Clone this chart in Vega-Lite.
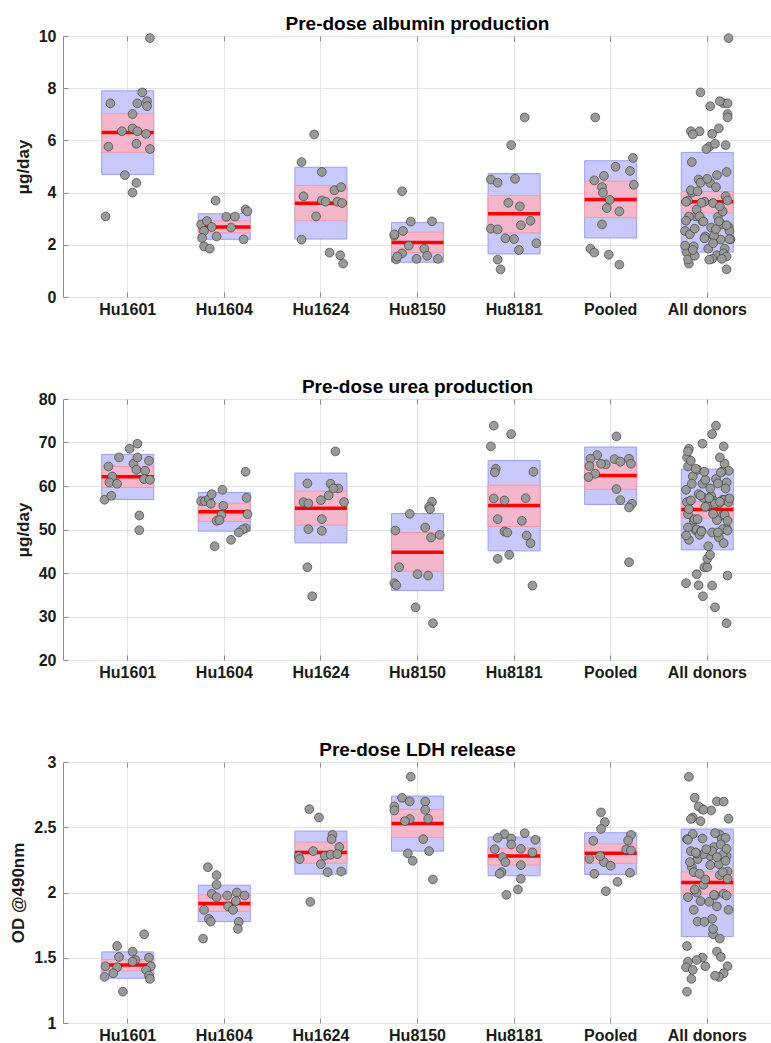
{
"$schema": "https://vega.github.io/schema/vega-lite/v6.json",
"background": "white",
"padding": {"left": 9, "top": 14, "right": 0, "bottom": 0},
"spacing": 59,
"config": {
  "font": "Liberation Sans",
  "view": {"stroke": "#8c8c8c", "strokeWidth": 1},
  "axis": {"labelFont": "Liberation Sans", "labelFontWeight": "bold", "labelFontSize": 16, "labelColor": "#1a1a1a", "titleFont": "Liberation Sans", "titleFontWeight": "bold", "titleFontSize": 17, "titleColor": "#1a1a1a", "domain": false, "grid": true, "gridColor": "#e4e4e4", "gridWidth": 1, "tickColor": "#8c8c8c", "tickSize": -5},
  "axisX": {"labelAngle": 0, "labelPadding": 9},
  "axisY": {"titlePadding": 6, "labelPadding": 12, "format": "~r"},
  "title": {"font": "Liberation Sans", "fontSize": 19, "fontWeight": "bold", "color": "#000000", "offset": -5.5, "frame": "group", "anchor": "middle"}
},
"datasets": {
"alb": [
{"g":"Hu1601","v":3.09,"j":-0.23,"a":-0.12},{"g":"Hu1601","v":7.42,"j":-0.18,"a":0.17},{"g":"Hu1601","v":5.76,"j":-0.2,"a":0.02},{"g":"Hu1601","v":6.35,"j":-0.06,"a":-0.17},{"g":"Hu1601","v":7.01,"j":0.05,"a":0.21},{"g":"Hu1601","v":6.46,"j":0.05,"a":0.12},{"g":"Hu1601","v":4.67,"j":-0.03,"a":0.1},{"g":"Hu1601","v":4.37,"j":0.09,"a":0.03},{"g":"Hu1601","v":4.0,"j":0.05,"a":-0.16},{"g":"Hu1601","v":7.42,"j":0.1,"a":0.21},{"g":"Hu1601","v":7.84,"j":0.15,"a":-0.07},{"g":"Hu1601","v":7.5,"j":0.2,"a":0.13},{"g":"Hu1601","v":7.31,"j":0.2,"a":0.03},{"g":"Hu1601","v":6.35,"j":0.1,"a":-0.08},{"g":"Hu1601","v":5.87,"j":0.09,"a":0.08},{"g":"Hu1601","v":6.25,"j":0.19,"a":0.05},{"g":"Hu1601","v":5.67,"j":0.23,"a":-0.01},{"g":"Hu1601","v":9.92,"j":0.23,"a":0.22},
{"g":"Hu1604","v":3.69,"j":-0.09,"a":-0.2},{"g":"Hu1604","v":2.78,"j":-0.24,"a":0.15},{"g":"Hu1604","v":2.91,"j":-0.18,"a":-0.05},{"g":"Hu1604","v":2.68,"j":-0.13,"a":0.22},{"g":"Hu1604","v":2.53,"j":-0.21,"a":-0.23},{"g":"Hu1604","v":2.26,"j":-0.23,"a":0.08},{"g":"Hu1604","v":1.94,"j":-0.21,"a":-0.14},{"g":"Hu1604","v":1.85,"j":-0.15,"a":0.18},{"g":"Hu1604","v":2.32,"j":-0.08,"a":-0.02},{"g":"Hu1604","v":3.07,"j":0.02,"a":0.11},{"g":"Hu1604","v":3.08,"j":0.11,"a":-0.19},{"g":"Hu1604","v":2.66,"j":0.07,"a":0.04},{"g":"Hu1604","v":2.21,"j":0.2,"a":0.24},{"g":"Hu1604","v":3.35,"j":0.22,"a":-0.11},{"g":"Hu1604","v":3.28,"j":0.24,"a":0.16},
{"g":"Hu1624","v":6.23,"j":-0.07,"a":-0.15},{"g":"Hu1624","v":5.17,"j":-0.2,"a":-0.16},{"g":"Hu1624","v":4.79,"j":0.01,"a":0.2},{"g":"Hu1624","v":3.86,"j":-0.18,"a":0.19},{"g":"Hu1624","v":3.7,"j":0.01,"a":0.21},{"g":"Hu1624","v":3.65,"j":0.05,"a":-0.22},{"g":"Hu1624","v":4.09,"j":0.14,"a":-0.17},{"g":"Hu1624","v":4.21,"j":0.21,"a":0.09},{"g":"Hu1624","v":3.65,"j":0.17,"a":-0.03},{"g":"Hu1624","v":3.6,"j":0.22,"a":0.06},{"g":"Hu1624","v":3.09,"j":-0.05,"a":-0.08},{"g":"Hu1624","v":2.2,"j":-0.2,"a":0.14},{"g":"Hu1624","v":1.7,"j":0.09,"a":-0.21},{"g":"Hu1624","v":1.6,"j":0.2,"a":0.1},{"g":"Hu1624","v":1.28,"j":0.23,"a":-0.19},
{"g":"Hu8150","v":4.05,"j":-0.16,"a":-0.1},{"g":"Hu8150","v":2.35,"j":-0.24,"a":0.07},{"g":"Hu8150","v":2.4,"j":-0.24,"a":-0.18},{"g":"Hu8150","v":2.53,"j":-0.15,"a":0.23},{"g":"Hu8150","v":2.89,"j":-0.07,"a":-0.04},{"g":"Hu8150","v":2.9,"j":0.15,"a":0.12},{"g":"Hu8150","v":1.97,"j":-0.09,"a":-0.23},{"g":"Hu8150","v":1.85,"j":0.07,"a":0.01},{"g":"Hu8150","v":1.67,"j":-0.16,"a":0.17},{"g":"Hu8150","v":1.44,"j":-0.22,"a":-0.2},{"g":"Hu8150","v":1.55,"j":-0.21,"a":0.2},{"g":"Hu8150","v":1.46,"j":-0.01,"a":0.05},{"g":"Hu8150","v":1.58,"j":0.1,"a":-0.13},{"g":"Hu8150","v":1.46,"j":0.21,"a":0.15},
{"g":"Hu8181","v":6.88,"j":0.11,"a":0.21},{"g":"Hu8181","v":5.82,"j":-0.03,"a":0.19},{"g":"Hu8181","v":4.5,"j":-0.24,"a":-0.09},{"g":"Hu8181","v":4.38,"j":-0.17,"a":-0.07},{"g":"Hu8181","v":4.53,"j":0.01,"a":0.0},{"g":"Hu8181","v":3.61,"j":-0.06,"a":-0.06},{"g":"Hu8181","v":3.47,"j":0.06,"a":0.13},{"g":"Hu8181","v":2.92,"j":0.17,"a":-0.22},{"g":"Hu8181","v":2.75,"j":0.07,"a":0.2},{"g":"Hu8181","v":2.62,"j":-0.24,"a":-0.13},{"g":"Hu8181","v":2.59,"j":-0.17,"a":0.09},{"g":"Hu8181","v":2.25,"j":-0.09,"a":-0.03},{"g":"Hu8181","v":2.22,"j":0.0,"a":0.23},{"g":"Hu8181","v":1.8,"j":0.05,"a":-0.15},{"g":"Hu8181","v":2.06,"j":0.23,"a":0.06},{"g":"Hu8181","v":1.43,"j":-0.17,"a":0.02},{"g":"Hu8181","v":1.06,"j":-0.14,"a":0.2},
{"g":"Pooled","v":6.88,"j":-0.16},{"g":"Pooled","v":5.33,"j":0.23},{"g":"Pooled","v":4.99,"j":0.05},{"g":"Pooled","v":4.83,"j":0.2},{"g":"Pooled","v":4.64,"j":-0.07},{"g":"Pooled","v":4.47,"j":-0.17},{"g":"Pooled","v":4.3,"j":0.24},{"g":"Pooled","v":4.21,"j":-0.09},{"g":"Pooled","v":4.0,"j":-0.08},{"g":"Pooled","v":3.72,"j":-0.01},{"g":"Pooled","v":3.41,"j":-0.04},{"g":"Pooled","v":3.28,"j":0.09},{"g":"Pooled","v":2.78,"j":-0.09},{"g":"Pooled","v":1.85,"j":-0.21},{"g":"Pooled","v":1.7,"j":-0.17},{"g":"Pooled","v":1.62,"j":-0.02},{"g":"Pooled","v":1.24,"j":0.09}
],
"albB": [
{"g":"Hu1601","m":6.3,"s0":4.69,"s1":7.9,"c0":5.54,"c1":7.02},
{"g":"Hu1604","m":2.68,"s0":2.21,"s1":3.19,"c0":2.46,"c1":2.92},
{"g":"Hu1624","m":3.59,"s0":2.22,"s1":4.97,"c0":2.92,"c1":4.27},
{"g":"Hu8150","m":2.09,"s0":1.33,"s1":2.85,"c0":1.7,"c1":2.48},
{"g":"Hu8181","m":3.19,"s0":1.65,"s1":4.73,"c0":2.46,"c1":3.88},
{"g":"Pooled","m":3.74,"s0":2.26,"s1":5.22,"c0":3.04,"c1":4.44},
{"g":"All donors","m":3.65,"s0":1.72,"s1":5.54,"c0":3.22,"c1":4.04}
],
"urea": [
{"g":"Hu1601","v":56.83,"j":-0.24,"a":0.16},{"g":"Hu1601","v":64.5,"j":-0.2,"a":-0.2},{"g":"Hu1601","v":57.75,"j":-0.17,"a":0.04},{"g":"Hu1601","v":62.2,"j":-0.16,"a":-0.15},{"g":"Hu1601","v":60.82,"j":-0.19,"a":0.2},{"g":"Hu1601","v":60.51,"j":-0.11,"a":-0.05},{"g":"Hu1601","v":66.57,"j":-0.09,"a":-0.21},{"g":"Hu1601","v":68.57,"j":0.02,"a":-0.19},{"g":"Hu1601","v":69.72,"j":0.1,"a":-0.05},{"g":"Hu1601","v":65.12,"j":0.06,"a":0.18},{"g":"Hu1601","v":66.57,"j":0.1,"a":0.13},{"g":"Hu1601","v":63.73,"j":0.09,"a":-0.1},{"g":"Hu1601","v":63.5,"j":0.18,"a":0.22},{"g":"Hu1601","v":65.81,"j":0.22,"a":-0.17},{"g":"Hu1601","v":61.59,"j":0.17,"a":0.09},{"g":"Hu1601","v":61.43,"j":0.23,"a":-0.02},{"g":"Hu1601","v":53.22,"j":0.12,"a":0.16},{"g":"Hu1601","v":49.85,"j":0.12,"a":-0.12},
{"g":"Hu1604","v":56.52,"j":-0.24,"a":0.07},{"g":"Hu1604","v":56.52,"j":-0.2,"a":-0.18},{"g":"Hu1604","v":56.98,"j":-0.16,"a":0.21},{"g":"Hu1604","v":58.13,"j":-0.13,"a":-0.09},{"g":"Hu1604","v":55.91,"j":-0.14,"a":0.12},{"g":"Hu1604","v":59.13,"j":-0.02,"a":-0.22},{"g":"Hu1604","v":55.45,"j":-0.01,"a":0.0},{"g":"Hu1604","v":53.38,"j":-0.03,"a":0.18},{"g":"Hu1604","v":52.0,"j":-0.08,"a":-0.14},{"g":"Hu1604","v":52.15,"j":-0.05,"a":0.1},{"g":"Hu1604","v":63.27,"j":0.22,"a":0.15},{"g":"Hu1604","v":57.29,"j":0.23,"a":-0.04},{"g":"Hu1604","v":53.53,"j":0.24,"a":-0.2},{"g":"Hu1604","v":50.31,"j":0.22,"a":0.2},{"g":"Hu1604","v":50.0,"j":0.19,"a":-0.11},{"g":"Hu1604","v":49.31,"j":0.15,"a":0.05},{"g":"Hu1604","v":47.62,"j":0.07,"a":-0.19},{"g":"Hu1604","v":46.16,"j":-0.1,"a":0.01},
{"g":"Hu1624","v":67.96,"j":0.15,"a":-0.2},{"g":"Hu1624","v":60.59,"j":-0.14,"a":0.11},{"g":"Hu1624","v":60.51,"j":0.1,"a":-0.16},{"g":"Hu1624","v":59.44,"j":0.18,"a":0.19},{"g":"Hu1624","v":59.44,"j":0.13,"a":0.03},{"g":"Hu1624","v":57.83,"j":0.08,"a":-0.07},{"g":"Hu1624","v":56.75,"j":0.0,"a":0.17},{"g":"Hu1624","v":56.29,"j":-0.18,"a":-0.21},{"g":"Hu1624","v":55.99,"j":-0.13,"a":0.08},{"g":"Hu1624","v":56.29,"j":0.24,"a":0.22},{"g":"Hu1624","v":52.38,"j":0.01,"a":-0.13},{"g":"Hu1624","v":50.08,"j":-0.13,"a":0.16},{"g":"Hu1624","v":49.69,"j":0.01,"a":-0.06},{"g":"Hu1624","v":41.33,"j":-0.14,"a":-0.03},{"g":"Hu1624","v":34.65,"j":-0.09,"a":-0.045},
{"g":"Hu8150","v":56.37,"j":0.15,"a":0.13},{"g":"Hu8150","v":55.2,"j":0.12,"a":-0.02},{"g":"Hu8150","v":54.68,"j":0.13,"a":-0.19},{"g":"Hu8150","v":53.6,"j":-0.08,"a":0.06},{"g":"Hu8150","v":50.46,"j":0.08,"a":-0.2},{"g":"Hu8150","v":49.77,"j":-0.23,"a":0.21},{"g":"Hu8150","v":48.77,"j":0.23,"a":-0.08},{"g":"Hu8150","v":48.16,"j":0.14,"a":0.12},{"g":"Hu8150","v":41.33,"j":-0.19,"a":0.0},{"g":"Hu8150","v":39.72,"j":0.0,"a":-0.11},{"g":"Hu8150","v":39.41,"j":0.11,"a":0.21},{"g":"Hu8150","v":37.65,"j":-0.24,"a":-0.22},{"g":"Hu8150","v":37.19,"j":-0.22,"a":-0.09},{"g":"Hu8150","v":32.12,"j":-0.02,"a":0.08},{"g":"Hu8150","v":28.44,"j":0.16,"a":0.2},
{"g":"Hu8181","v":73.86,"j":-0.21,"a":0.09},{"g":"Hu8181","v":71.94,"j":-0.03,"a":0.05},{"g":"Hu8181","v":69.1,"j":-0.24,"a":0.17},{"g":"Hu8181","v":63.96,"j":-0.19,"a":-0.12},{"g":"Hu8181","v":63.12,"j":-0.2,"a":0.14},{"g":"Hu8181","v":63.27,"j":0.2,"a":-0.03},{"g":"Hu8181","v":57.14,"j":-0.21,"a":0.23},{"g":"Hu8181","v":56.68,"j":-0.1,"a":-0.17},{"g":"Hu8181","v":57.21,"j":0.12,"a":0.02},{"g":"Hu8181","v":52.38,"j":-0.17,"a":-0.1},{"g":"Hu8181","v":52.0,"j":0.08,"a":0.21},{"g":"Hu8181","v":49.54,"j":-0.1,"a":-0.06},{"g":"Hu8181","v":49.31,"j":-0.07,"a":0.11},{"g":"Hu8181","v":48.62,"j":0.13,"a":-0.22},{"g":"Hu8181","v":46.86,"j":0.17,"a":0.17},{"g":"Hu8181","v":43.25,"j":-0.17,"a":0.0},{"g":"Hu8181","v":44.17,"j":-0.05,"a":0.03},{"g":"Hu8181","v":37.11,"j":0.19,"a":0.05},
{"g":"Pooled","v":71.41,"j":0.06},{"g":"Pooled","v":67.11,"j":-0.14},{"g":"Pooled","v":66.27,"j":-0.21},{"g":"Pooled","v":64.96,"j":-0.05},{"g":"Pooled","v":64.58,"j":-0.22},{"g":"Pooled","v":66.19,"j":0.04},{"g":"Pooled","v":65.58,"j":0.1},{"g":"Pooled","v":66.27,"j":0.19},{"g":"Pooled","v":65.12,"j":0.21},{"g":"Pooled","v":65.12,"j":-0.1},{"g":"Pooled","v":62.81,"j":-0.16},{"g":"Pooled","v":62.05,"j":-0.23},{"g":"Pooled","v":59.29,"j":0.06},{"g":"Pooled","v":56.75,"j":0.1},{"g":"Pooled","v":55.91,"j":0.22},{"g":"Pooled","v":55.06,"j":0.19},{"g":"Pooled","v":42.48,"j":0.19}
],
"ureaB": [
{"g":"Hu1601","m":62.12,"s0":56.9,"s1":67.26,"c0":59.67,"c1":64.5},
{"g":"Hu1604","m":54.07,"s0":49.62,"s1":58.52,"c0":51.84,"c1":56.06},
{"g":"Hu1624","m":54.91,"s0":46.93,"s1":62.97,"c0":51.0,"c1":58.82},
{"g":"Hu8150","m":44.78,"s0":35.96,"s1":53.68,"c0":40.41,"c1":49.31},
{"g":"Hu8181","m":55.53,"s0":45.09,"s1":65.88,"c0":50.69,"c1":60.21},
{"g":"Pooled","m":62.43,"s0":55.76,"s1":68.95,"c0":59.21,"c1":65.42},
{"g":"All donors","m":54.6,"s0":45.32,"s1":63.89,"c0":52.61,"c1":56.37}
],
"ldh": [
{"g":"Hu1601","v":1.68,"j":0.17,"a":0.06},{"g":"Hu1601","v":1.59,"j":-0.11,"a":-0.21},{"g":"Hu1601","v":1.547,"j":0.05,"a":0.1},{"g":"Hu1601","v":1.506,"j":-0.09,"a":0.14},{"g":"Hu1601","v":1.501,"j":0.22,"a":-0.05},{"g":"Hu1601","v":1.483,"j":0.08,"a":-0.11},{"g":"Hu1601","v":1.47,"j":0.05,"a":-0.2},{"g":"Hu1601","v":1.435,"j":-0.23,"a":0.21},{"g":"Hu1601","v":1.427,"j":-0.11,"a":-0.22},{"g":"Hu1601","v":1.435,"j":0.24,"a":-0.02},{"g":"Hu1601","v":1.381,"j":-0.15,"a":0.17},{"g":"Hu1601","v":1.407,"j":0.19,"a":-0.15},{"g":"Hu1601","v":1.353,"j":-0.24,"a":0.12},{"g":"Hu1601","v":1.363,"j":0.22,"a":0.08},{"g":"Hu1601","v":1.338,"j":0.23,"a":-0.165},{"g":"Hu1601","v":1.24,"j":-0.05,"a":-0.21},
{"g":"Hu1604","v":2.194,"j":-0.17,"a":-0.16},{"g":"Hu1604","v":2.133,"j":-0.08,"a":0.13},{"g":"Hu1604","v":2.059,"j":-0.08,"a":-0.04},{"g":"Hu1604","v":1.99,"j":-0.13,"a":0.17},{"g":"Hu1604","v":1.964,"j":-0.08,"a":-0.2},{"g":"Hu1604","v":1.977,"j":0.03,"a":0.08},{"g":"Hu1604","v":2.0,"j":0.13,"a":-0.11},{"g":"Hu1604","v":1.977,"j":0.21,"a":0.2},{"g":"Hu1604","v":1.934,"j":0.12,"a":-0.07},{"g":"Hu1604","v":1.893,"j":0.04,"a":0.1},{"g":"Hu1604","v":1.867,"j":0.09,"a":0.22},{"g":"Hu1604","v":1.867,"j":-0.21,"a":-0.14},{"g":"Hu1604","v":1.798,"j":-0.16,"a":0.05},{"g":"Hu1604","v":1.777,"j":-0.14,"a":-0.1},{"g":"Hu1604","v":1.775,"j":0.15,"a":-0.03},{"g":"Hu1604","v":1.721,"j":0.14,"a":0.06},{"g":"Hu1604","v":1.647,"j":-0.22,"a":0.13},
{"g":"Hu1624","v":2.639,"j":-0.12,"a":-0.05},{"g":"Hu1624","v":2.575,"j":-0.02,"a":-0.15},{"g":"Hu1624","v":2.442,"j":0.12,"a":0.13},{"g":"Hu1624","v":2.409,"j":0.11,"a":-0.21},{"g":"Hu1624","v":2.348,"j":0.19,"a":0.07},{"g":"Hu1624","v":2.317,"j":-0.08,"a":-0.17},{"g":"Hu1624","v":2.279,"j":-0.23,"a":0.2},{"g":"Hu1624","v":2.256,"j":-0.22,"a":-0.1},{"g":"Hu1624","v":2.281,"j":0.04,"a":0.03},{"g":"Hu1624","v":2.289,"j":0.1,"a":0.16},{"g":"Hu1624","v":2.294,"j":0.17,"a":-0.04},{"g":"Hu1624","v":2.217,"j":0.0,"a":0.12},{"g":"Hu1624","v":2.156,"j":0.07,"a":-0.14},{"g":"Hu1624","v":2.161,"j":0.21,"a":0.21},{"g":"Hu1624","v":1.928,"j":-0.11,"a":0.02},
{"g":"Hu8150","v":2.887,"j":-0.07,"a":-0.19},{"g":"Hu8150","v":2.726,"j":-0.16,"a":-0.13},{"g":"Hu8150","v":2.698,"j":-0.08,"a":0.1},{"g":"Hu8150","v":2.696,"j":0.08,"a":0.17},{"g":"Hu8150","v":2.66,"j":-0.24,"a":-0.09},{"g":"Hu8150","v":2.629,"j":-0.24,"a":0.04},{"g":"Hu8150","v":2.634,"j":0.08,"a":-0.04},{"g":"Hu8150","v":2.565,"j":0.11,"a":0.22},{"g":"Hu8150","v":2.563,"j":-0.08,"a":-0.17},{"g":"Hu8150","v":2.547,"j":-0.13,"a":-0.07},{"g":"Hu8150","v":2.409,"j":0.06,"a":0.15},{"g":"Hu8150","v":2.299,"j":-0.1,"a":-0.11},{"g":"Hu8150","v":2.317,"j":0.12,"a":0.05},{"g":"Hu8150","v":2.243,"j":-0.05,"a":0.19},{"g":"Hu8150","v":2.1,"j":0.16,"a":-0.02},
{"g":"Hu8181","v":2.448,"j":-0.1,"a":-0.15},{"g":"Hu8181","v":2.455,"j":0.11,"a":0.08},{"g":"Hu8181","v":2.419,"j":-0.17,"a":0.19},{"g":"Hu8181","v":2.414,"j":-0.03,"a":-0.05},{"g":"Hu8181","v":2.404,"j":0.22,"a":-0.2},{"g":"Hu8181","v":2.368,"j":-0.03,"a":0.14},{"g":"Hu8181","v":2.332,"j":-0.2,"a":-0.01},{"g":"Hu8181","v":2.335,"j":0.07,"a":0.2},{"g":"Hu8181","v":2.307,"j":0.19,"a":-0.12},{"g":"Hu8181","v":2.271,"j":-0.12,"a":0.1},{"g":"Hu8181","v":2.233,"j":-0.09,"a":-0.18},{"g":"Hu8181","v":2.21,"j":0.07,"a":0.03},{"g":"Hu8181","v":2.156,"j":-0.13,"a":0.16},{"g":"Hu8181","v":2.143,"j":-0.15,"a":-0.08},{"g":"Hu8181","v":2.105,"j":0.07,"a":0.21},{"g":"Hu8181","v":2.023,"j":0.04,"a":-0.13},{"g":"Hu8181","v":1.982,"j":-0.08,"a":0.07},
{"g":"Pooled","v":2.614,"j":-0.1},{"g":"Pooled","v":2.54,"j":-0.06},{"g":"Pooled","v":2.488,"j":-0.1},{"g":"Pooled","v":2.442,"j":0.21},{"g":"Pooled","v":2.399,"j":0.18},{"g":"Pooled","v":2.396,"j":-0.18},{"g":"Pooled","v":2.33,"j":0.16},{"g":"Pooled","v":2.322,"j":0.21},{"g":"Pooled","v":2.233,"j":-0.07},{"g":"Pooled","v":2.205,"j":0.0},{"g":"Pooled","v":2.258,"j":-0.22},{"g":"Pooled","v":2.279,"j":-0.11},{"g":"Pooled","v":2.143,"j":-0.17},{"g":"Pooled","v":2.151,"j":0.2},{"g":"Pooled","v":2.082,"j":0.07},{"g":"Pooled","v":2.01,"j":-0.05}
],
"ldhB": [
{"g":"Hu1601","m":1.445,"s0":1.343,"s1":1.545,"c0":1.399,"c1":1.488},
{"g":"Hu1604","m":1.916,"s0":1.777,"s1":2.056,"c0":1.854,"c1":1.982},
{"g":"Hu1624","m":2.307,"s0":2.141,"s1":2.471,"c0":2.225,"c1":2.386},
{"g":"Hu8150","m":2.529,"s0":2.317,"s1":2.739,"c0":2.422,"c1":2.637},
{"g":"Hu8181","m":2.279,"s0":2.128,"s1":2.425,"c0":2.21,"c1":2.34},
{"g":"Pooled","m":2.3,"s0":2.138,"s1":2.458,"c0":2.223,"c1":2.373},
{"g":"All donors","m":2.077,"s0":1.662,"s1":2.486,"c0":1.988,"c1":2.159}
]
},
"vconcat": [
{
 "title": "Pre-dose albumin production",
 "width": 709, "height": 261,
 "resolve": {"axis": {"x": "independent"}},
 "encoding": {"x": {"field": "g", "type": "nominal", "sort": null, "title": null, "axis": null, "scale": {"domain": ["Hu1601","Hu1604","Hu1624","Hu8150","Hu8181","Pooled","All donors"], "paddingInner": 0, "paddingOuter": 0.17}}},
 "layer": [
  {"data": {"name": "albB"}, "mark": {"type": "bar", "width": 52, "fill": "#c8c8fa", "stroke": "#9d9df3", "strokeWidth": 1},
   "encoding": {"x": {"field": "g", "type": "nominal", "sort": null, "title": null, "scale": {"domain": ["Hu1601","Hu1604","Hu1624","Hu8150","Hu8181","Pooled","All donors"], "paddingInner": 0, "paddingOuter": 0.17}, "axis": {"orient": "bottom"}},
    "y": {"field": "s0", "type": "quantitative", "title": "μg/day", "scale": {"domain": [0,10], "nice": false, "zero": false}, "axis": {"values": [0,2,4,6,8,10]}}, "y2": {"field": "s1"}}},
  {"data": {"name": "albB"}, "mark": {"type": "bar", "width": 52, "fill": "#f4b6ca", "stroke": "#f29aa8", "strokeWidth": 1},
   "encoding": {"y": {"field": "c0", "type": "quantitative", "title": "μg/day", "scale": {"domain": [0,10], "nice": false, "zero": false}}, "y2": {"field": "c1"}}},
  {"data": {"name": "albB"}, "mark": {"type": "tick", "color": "#ff0000", "size": 52, "thickness": 3.5, "opacity": 1},
   "encoding": {"x": {"field": "g", "type": "nominal", "sort": null, "title": null, "scale": {"domain": ["Hu1601","Hu1604","Hu1624","Hu8150","Hu8181","Pooled","All donors"], "paddingInner": 0, "paddingOuter": 0.17}, "axis": {"orient": "top", "labels": false, "grid": false, "domain": false, "minExtent": 0, "maxExtent": 0}},
    "y": {"field": "m", "type": "quantitative", "title": "μg/day", "scale": {"domain": [0,10], "nice": false, "zero": false}}}},
  {"data": {"name": "alb"}, "mark": {"type": "circle", "size": 78, "fill": "#999999", "stroke": "#333333", "strokeWidth": 0.6, "opacity": 1},
   "encoding": {"xOffset": {"field": "j", "type": "quantitative", "scale": {"domain": [-0.5,0.5]}}, "y": {"field": "v", "type": "quantitative", "title": "μg/day", "scale": {"domain": [0,10], "nice": false, "zero": false}}}},
  {"data": {"name": "alb"}, "transform": [{"filter": "datum.a != null"}], "mark": {"type": "circle", "size": 78, "fill": "#999999", "stroke": "#333333", "strokeWidth": 0.6, "opacity": 1},
   "encoding": {"x": {"datum": "All donors", "type": "nominal", "axis": null}, "xOffset": {"field": "a", "type": "quantitative", "scale": {"domain": [-0.5,0.5]}}, "y": {"field": "v", "type": "quantitative", "title": "μg/day", "scale": {"domain": [0,10], "nice": false, "zero": false}}}}
 ]
},
{
 "title": "Pre-dose urea production",
 "width": 709, "height": 261,
 "resolve": {"axis": {"x": "independent"}},
 "encoding": {"x": {"field": "g", "type": "nominal", "sort": null, "title": null, "axis": null, "scale": {"domain": ["Hu1601","Hu1604","Hu1624","Hu8150","Hu8181","Pooled","All donors"], "paddingInner": 0, "paddingOuter": 0.17}}},
 "layer": [
  {"data": {"name": "ureaB"}, "mark": {"type": "bar", "width": 52, "fill": "#c8c8fa", "stroke": "#9d9df3", "strokeWidth": 1},
   "encoding": {"x": {"field": "g", "type": "nominal", "sort": null, "title": null, "scale": {"domain": ["Hu1601","Hu1604","Hu1624","Hu8150","Hu8181","Pooled","All donors"], "paddingInner": 0, "paddingOuter": 0.17}, "axis": {"orient": "bottom"}},
    "y": {"field": "s0", "type": "quantitative", "title": "μg/day", "scale": {"domain": [20,80], "nice": false, "zero": false}, "axis": {"values": [20,30,40,50,60,70,80]}}, "y2": {"field": "s1"}}},
  {"data": {"name": "ureaB"}, "mark": {"type": "bar", "width": 52, "fill": "#f4b6ca", "stroke": "#f29aa8", "strokeWidth": 1},
   "encoding": {"y": {"field": "c0", "type": "quantitative", "title": "μg/day", "scale": {"domain": [20,80], "nice": false, "zero": false}}, "y2": {"field": "c1"}}},
  {"data": {"name": "ureaB"}, "mark": {"type": "tick", "color": "#ff0000", "size": 52, "thickness": 3.5, "opacity": 1},
   "encoding": {"x": {"field": "g", "type": "nominal", "sort": null, "title": null, "scale": {"domain": ["Hu1601","Hu1604","Hu1624","Hu8150","Hu8181","Pooled","All donors"], "paddingInner": 0, "paddingOuter": 0.17}, "axis": {"orient": "top", "labels": false, "grid": false, "domain": false, "minExtent": 0, "maxExtent": 0}},
    "y": {"field": "m", "type": "quantitative", "title": "μg/day", "scale": {"domain": [20,80], "nice": false, "zero": false}}}},
  {"data": {"name": "urea"}, "mark": {"type": "circle", "size": 78, "fill": "#999999", "stroke": "#333333", "strokeWidth": 0.6, "opacity": 1},
   "encoding": {"xOffset": {"field": "j", "type": "quantitative", "scale": {"domain": [-0.5,0.5]}}, "y": {"field": "v", "type": "quantitative", "title": "μg/day", "scale": {"domain": [20,80], "nice": false, "zero": false}}}},
  {"data": {"name": "urea"}, "transform": [{"filter": "datum.a != null"}], "mark": {"type": "circle", "size": 78, "fill": "#999999", "stroke": "#333333", "strokeWidth": 0.6, "opacity": 1},
   "encoding": {"x": {"datum": "All donors", "type": "nominal", "axis": null}, "xOffset": {"field": "a", "type": "quantitative", "scale": {"domain": [-0.5,0.5]}}, "y": {"field": "v", "type": "quantitative", "title": "μg/day", "scale": {"domain": [20,80], "nice": false, "zero": false}}}}
 ]
},
{
 "title": "Pre-dose LDH release",
 "width": 709, "height": 261,
 "resolve": {"axis": {"x": "independent"}},
 "encoding": {"x": {"field": "g", "type": "nominal", "sort": null, "title": null, "axis": null, "scale": {"domain": ["Hu1601","Hu1604","Hu1624","Hu8150","Hu8181","Pooled","All donors"], "paddingInner": 0, "paddingOuter": 0.17}}},
 "layer": [
  {"data": {"name": "ldhB"}, "mark": {"type": "bar", "width": 52, "fill": "#c8c8fa", "stroke": "#9d9df3", "strokeWidth": 1},
   "encoding": {"x": {"field": "g", "type": "nominal", "sort": null, "title": null, "scale": {"domain": ["Hu1601","Hu1604","Hu1624","Hu8150","Hu8181","Pooled","All donors"], "paddingInner": 0, "paddingOuter": 0.17}, "axis": {"orient": "bottom"}},
    "y": {"field": "s0", "type": "quantitative", "title": "OD @490nm", "scale": {"domain": [1,3], "nice": false, "zero": false}, "axis": {"values": [1,1.5,2,2.5,3]}}, "y2": {"field": "s1"}}},
  {"data": {"name": "ldhB"}, "mark": {"type": "bar", "width": 52, "fill": "#f4b6ca", "stroke": "#f29aa8", "strokeWidth": 1},
   "encoding": {"y": {"field": "c0", "type": "quantitative", "title": "OD @490nm", "scale": {"domain": [1,3], "nice": false, "zero": false}}, "y2": {"field": "c1"}}},
  {"data": {"name": "ldhB"}, "mark": {"type": "tick", "color": "#ff0000", "size": 52, "thickness": 3.5, "opacity": 1},
   "encoding": {"x": {"field": "g", "type": "nominal", "sort": null, "title": null, "scale": {"domain": ["Hu1601","Hu1604","Hu1624","Hu8150","Hu8181","Pooled","All donors"], "paddingInner": 0, "paddingOuter": 0.17}, "axis": {"orient": "top", "labels": false, "grid": false, "domain": false, "minExtent": 0, "maxExtent": 0}},
    "y": {"field": "m", "type": "quantitative", "title": "OD @490nm", "scale": {"domain": [1,3], "nice": false, "zero": false}}}},
  {"data": {"name": "ldh"}, "mark": {"type": "circle", "size": 78, "fill": "#999999", "stroke": "#333333", "strokeWidth": 0.6, "opacity": 1},
   "encoding": {"xOffset": {"field": "j", "type": "quantitative", "scale": {"domain": [-0.5,0.5]}}, "y": {"field": "v", "type": "quantitative", "title": "OD @490nm", "scale": {"domain": [1,3], "nice": false, "zero": false}}}},
  {"data": {"name": "ldh"}, "transform": [{"filter": "datum.a != null"}], "mark": {"type": "circle", "size": 78, "fill": "#999999", "stroke": "#333333", "strokeWidth": 0.6, "opacity": 1},
   "encoding": {"x": {"datum": "All donors", "type": "nominal", "axis": null}, "xOffset": {"field": "a", "type": "quantitative", "scale": {"domain": [-0.5,0.5]}}, "y": {"field": "v", "type": "quantitative", "title": "OD @490nm", "scale": {"domain": [1,3], "nice": false, "zero": false}}}}
 ]
}
]
}
